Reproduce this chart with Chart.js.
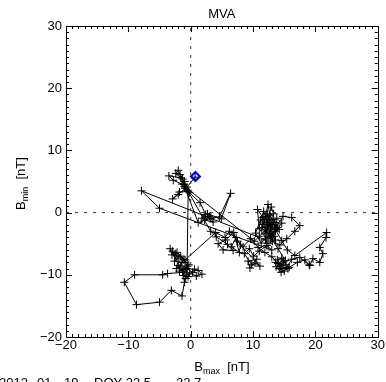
<!DOCTYPE html>
<html>
<head>
<meta charset="utf-8">
<script src="https://cdn.jsdelivr.net/npm/chart.js@4.4.0/dist/chart.umd.min.js"></script>
<style>
  html, body { margin: 0; padding: 0; background: #fff; }
  #wrap { width: 386px; height: 382px; }
</style>
</head>
<body>
<div id="wrap"><canvas id="chart" width="386" height="382"></canvas></div>
<script>
// MVA hodogram - B_max vs B_min

const title = 'MVA';
const xTicks = [-20, -10, 0, 10, 20, 30];
const yTicks = [-20, -10, 0, 10, 20, 30];
const footer = [['2012-', -1], ['01-', 37], ['19', 64], ['DOY 22.5', 94], ['--', 161], ['22.7', 176]];

const bMax = [
    0.7, -0.6, -1.3, -2.0, -2.4, -1.6, -3.5, -2.8, -1.4, -0.9, -2.0, -2.9, -1.8, -0.5, -1.1, -1.7, -1.0, -0.2,
    1.5, 2.4, 1.8, 3.0, 2.2, 3.6, 2.7, 4.9, 6.4, 4.6, 3.2, 1.2, -1.0, 10.2,
    11.0, 12.0, 11.5, 12.6, 13.1, 12.2, 13.4, 12.8, 11.8, 12.4, 12.7, 13.5, 14.2, 13.0, 12.1, 11.0, 10.7, 11.6,
    12.9, 13.8, 14.6, 13.6, 12.5, 11.9, 13.2, 12.3, 11.4, 12.8, 13.9, 12.5, 11.2, 12.0, 13.3, 12.9, 12.2, 13.6, 12.4, 12.0,
    -7.9, -5.0, 13.0,
    12.2, 11.0, 10.1, 9.4, 8.6, 9.8, 10.6, 9.2, 9.5, 10.3, 11.1, 8.0, 7.3, 6.5, 7.8, 6.9, 5.6, 4.4, 5.2, 6.8, 5.9, 4.1, 3.2,
    -0.4, -0.6,
    -1.2, -2.0, -2.9, -3.3, -3.0, -2.2, -2.5, -1.9, -2.6, -1.4, -1.6, -2.3, -1.1, -0.3, -0.9, -1.8, -0.6, 0.3, 0.6,
    1.2, 1.8, 0.9, -0.2, -0.4, -0.8, -1.3,
    -3.7, -4.5, -9.0, -10.65, -8.7, -5.0, -3.1, -1.4, -1.0, -1.2, -0.5, -1.6, -2.2, -0.9,
    4.0, 5.5, 6.2, 7.5, 8.4, 9.6, 10.8, 11.9, 13.0, 14.0, 14.8, 13.9, 14.6, 15.3, 14.9, 13.7, 14.5, 15.6, 14.2, 15.0,
    16.2, 17.5, 19.1, 19.6, 20.7, 21.2, 20.7, 21.7, 21.8, 16.7, 15.5, 14.6, 13.5, 14.8, 16.2, 17.5, 16.7, 15.4,
    14.3, 13.1, 12.6, 11.3, 10.4, 11.7, 12.3, 13.7, 12.9, 14.0, 15.2, 14.4, 13.6, 15.8, 17.1, 18.3, 19.0
];
const bMin = [
    5.7, 4.1, 5.4, 6.8, 6.3, 5.6, 5.9, 5.2, 4.6, 3.9, 2.9, 2.2, 3.3, 3.6, 4.5, 6.1, 5.0, 3.2,
    1.6, -0.3, -0.9, -0.6, -1.2, -1.5, -0.2, -1.0, 3.1, -0.7, -0.9, -1.6, 4.2, -4.6,
    -3.8, -2.8, -1.9, -1.2, -2.2, -3.1, -3.8, -2.5, -1.5, 1.3, -0.5, -1.6, -2.7, -3.3, -4.2, -2.6, 0.5, -0.8,
    -1.9, -0.9, -1.7, -3.0, -2.0, -3.4, -1.1, -0.2, -2.4, -3.9, -2.4, -1.0, -1.2, -0.6, -0.2, 0.9, -2.2, -4.4, -5.0, -4.4,
    3.5, 0.7, -6.0,
    -5.3, -6.2, -7.0, -5.8, -6.6, -8.4, -7.5, -7.8, -8.9, -8.1, -8.6, -5.2, -4.0, -5.5, -6.4, -3.2, -4.4, -5.0, -6.0, -6.1, -5.1, -3.9, -3.0,
    3.4, -9.9,
    -9.2, -8.5, -6.2, -5.8, -6.8, -7.0, -6.6, -7.3, -7.8, -8.0, -8.6, -9.0, -7.6, -8.4, -8.9, -9.4, -9.0, -9.6, -9.1,
    -9.3, -9.9, -10.2, -9.7, -10.3, -10.6, -9.6,
    -9.8, -10.0, -10.0, -11.2, -14.8, -14.4, -12.5, -13.4, -11.2, -10.1, -8.6, -7.0, -6.4, -7.6,
    -3.2, -4.0, -3.0, -4.6, -5.5, -4.2, -5.6, -6.4, -7.1, -8.2, -8.9, -7.6, -7.3, -8.4, -7.9, -8.7, -9.6, -9.0, -9.0, -9.4,
    -7.5, -7.2, -8.5, -7.4, -8.0, -6.6, -5.6, -4.0, -3.2, -6.9, -6.0, -4.5, -2.6, -0.6, -0.8, -2.1, -3.0, -4.2,
    -5.2, -4.6, -3.6, -4.9, -3.3, 0.2, -1.6, -2.0, -4.1, -5.8, -7.7, -8.6, -8.0, -8.8, -8.0, -7.6, -8.4
];
const startPoint = [0.75, 5.8];

const FONT = 'Liberation Sans, Arial, sans-serif';

function fmt(v) {
    return v < 0 ? '\u2212' + Math.abs(v) : String(v);
}

// box, inward ticks on all four sides, and the texts
const framePlugin = {
    id: 'frame',
    afterDatasetsDraw(chart) {
        const ctx = chart.ctx;
        const a = chart.chartArea;
        const xs = chart.scales.x, ys = chart.scales.y;
        ctx.save();
        ctx.strokeStyle = '#000';
        ctx.lineWidth = 1;
        ctx.strokeRect(Math.round(a.left) + 0.5, Math.round(a.top) + 0.5,
            Math.round(a.right - a.left), Math.round(a.bottom - a.top));
        ctx.beginPath();
        for (let v = xTicks[0]; v <= xTicks[xTicks.length - 1]; v++) {
            const len = v % 10 === 0 ? 6 : 3;
            const px = Math.round(xs.getPixelForValue(v)) + 0.5;
            ctx.moveTo(px, a.bottom); ctx.lineTo(px, a.bottom - len);
            ctx.moveTo(px, a.top); ctx.lineTo(px, a.top + len);
        }
        for (let v = yTicks[0]; v <= yTicks[yTicks.length - 1]; v++) {
            const len = v % 10 === 0 ? 6 : 3;
            const py = Math.round(ys.getPixelForValue(v)) + 0.5;
            ctx.moveTo(a.left, py); ctx.lineTo(a.left + len, py);
            ctx.moveTo(a.right, py); ctx.lineTo(a.right - len, py);
        }
        ctx.stroke();
        ctx.restore();
    },
    afterDraw(chart) {
        const ctx = chart.ctx;
        const a = chart.chartArea;
        const cx = (a.left + a.right) / 2;
        ctx.save();
        ctx.fillStyle = '#000';
        ctx.textBaseline = 'alphabetic';

        ctx.font = '13px ' + FONT;
        ctx.textAlign = 'center';
        ctx.fillText(title, cx, 18);

        // x axis title with subscript
        drawSubLabel(ctx, 'B', 'max', '  [nT]', cx, 371);

        // y axis title, rotated
        ctx.save();
        ctx.translate(25, (a.top + a.bottom) / 2 + 2);
        ctx.rotate(-Math.PI / 2);
        drawSubLabel(ctx, 'B', 'min', '  [nT]', 0, 0);
        ctx.restore();

        ctx.font = '13px ' + FONT;
        ctx.textAlign = 'left';
        footer.forEach(([t, x]) => ctx.fillText(t, x, 387));
        ctx.restore();
    }
};

function drawSubLabel(ctx, main, sub, rest, cx, y) {
    const big = '13px ' + FONT, small = '9px ' + FONT;
    ctx.font = big;
    const w1 = ctx.measureText(main).width;
    const w3 = ctx.measureText(rest).width;
    ctx.font = small;
    const w2 = ctx.measureText(sub).width;
    let x = cx - (w1 + w2 + w3) / 2;
    ctx.textAlign = 'left';
    ctx.font = big;
    ctx.fillText(main, x, y);
    x += w1;
    ctx.font = small;
    ctx.fillText(sub, x, y + 3);
    x += w2;
    ctx.font = big;
    ctx.fillText(rest, x, y);
}

const path = bMax.map((x, i) => ({ x: x, y: bMin[i] }));

new Chart(document.getElementById('chart'), {
    type: 'scatter',
    data: {
        datasets: [{
            data: [{ x: 0, y: yTicks[0] }, { x: 0, y: yTicks[yTicks.length - 1] }],
            showLine: true,
            borderColor: '#333',
            borderWidth: 1,
            borderDash: [3, 6],
            pointRadius: 0
        }, {
            data: [{ x: xTicks[0], y: 0 }, { x: xTicks[xTicks.length - 1], y: 0 }],
            showLine: true,
            borderColor: '#333',
            borderWidth: 1,
            borderDash: [3, 6],
            pointRadius: 0
        }, {
            data: path,
            showLine: true,
            borderColor: '#000',
            borderWidth: 1,
            pointStyle: 'cross',
            pointRadius: 4,
            pointBorderWidth: 1,
            pointBorderColor: '#000',
            tension: 0
        }, {
            data: [{ x: startPoint[0], y: startPoint[1] }],
            pointStyle: 'rectRot',
            pointRadius: 4.5,
            pointBorderWidth: 2,
            pointBorderColor: '#0000ff',
            pointBackgroundColor: '#fff'
        }]
    },
    options: {
        responsive: false,
        animation: false,
        devicePixelRatio: 1,
        layout: { padding: { top: 26, right: 8, left: 0, bottom: 0 } },
        plugins: {
            legend: { display: false },
            tooltip: { enabled: false }
        },
        scales: {
            x: {
                type: 'linear',
                min: xTicks[0],
                max: xTicks[xTicks.length - 1],
                afterBuildTicks: s => { s.ticks = xTicks.map(v => ({ value: v })); },
                afterFit: s => { s.height = 45; },
                grid: { display: false, drawTicks: false },
                border: { display: false },
                ticks: {
                    color: '#000',
                    font: { family: FONT, size: 13 },
                    padding: 1,
                    maxRotation: 0,
                    autoSkip: false,
                    callback: v => fmt(v)
                }
            },
            y: {
                type: 'linear',
                min: yTicks[0],
                max: yTicks[yTicks.length - 1],
                afterBuildTicks: s => { s.ticks = yTicks.map(v => ({ value: v })); },
                afterFit: s => { s.width = 66; },
                grid: { display: false, drawTicks: false },
                border: { display: false },
                ticks: {
                    color: '#000',
                    font: { family: FONT, size: 13 },
                    padding: 4,
                    autoSkip: false,
                    callback: v => fmt(v)
                }
            }
        }
    },
    plugins: [framePlugin]
});
</script>
</body>
</html>
